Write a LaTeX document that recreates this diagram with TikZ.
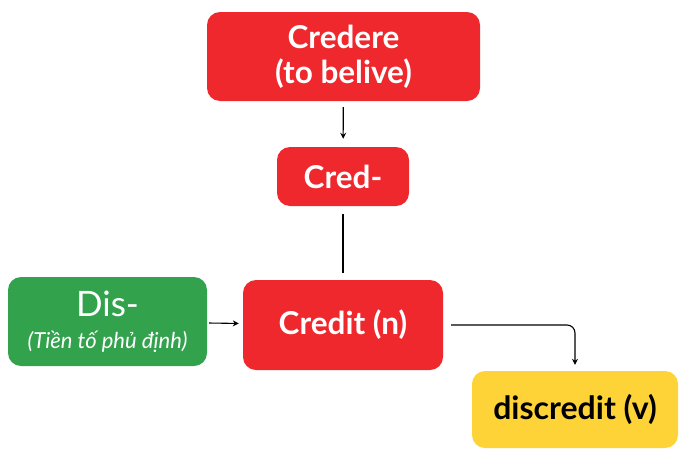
\documentclass[tikz,border=0pt]{standalone}
\usepackage{fontspec}
\setmainfont{Lato}
\usetikzlibrary{arrows.meta}
\definecolor{boxred}{HTML}{EF282E}
\definecolor{boxgreen}{HTML}{33A24D}
\definecolor{boxyellow}{HTML}{FDD337}
\tikzset{
  box/.style={rounded corners=13pt, inner sep=0pt, align=center, text=white,
    font=\bfseries\fontsize{31.5}{35}\selectfont},
  redbox/.style={box, fill=boxred},
  conn/.style={line width=1.1pt, black},
  arr/.style={conn, -{Stealth[length=6pt,width=6pt]}}
}
\begin{document}
\begin{tikzpicture}[x=1pt,y=-1pt]
\useasboundingbox (0,0) rectangle (700,466);
\node[redbox, minimum width=273pt, minimum height=89pt] (credere) at (343.5,56.5) {Credere\\(to belive)};
\node[redbox, minimum width=132pt, minimum height=59pt] (cred) at (343,176.5) {Cred-};
\node[box, fill=boxgreen, minimum width=199pt, minimum height=89pt, font=\fontsize{35}{36}\selectfont] (dis) at (107.5,321.5) {Dis-\\[-4pt]{\itshape\fontsize{22}{24}\selectfont (Tiền tố phủ định)}};
\node[redbox, minimum width=200pt, minimum height=90pt] (credit) at (343,325) {Credit (n)};
\node[box, fill=boxyellow, text=black, minimum width=206pt, minimum height=77pt, font=\bfseries\fontsize{32}{35}\selectfont] (discredit) at (575,409.5) {discredit (v)};
\coordinate (corner) at (discredit.north |- credit.east);
\draw[arr, shorten <=6pt, shorten >=8pt] (credere) -- (cred);
\draw[conn, shorten <=8pt, shorten >=7pt] (cred) -- (credit);
\draw[arr, shorten <=2pt, shorten >=4pt] (dis) -- (credit);
\draw[arr, rounded corners=8pt, shorten <=8pt, shorten >=6pt] (credit.east) -- (corner) -- (discredit.north);
\end{tikzpicture}
\end{document}
